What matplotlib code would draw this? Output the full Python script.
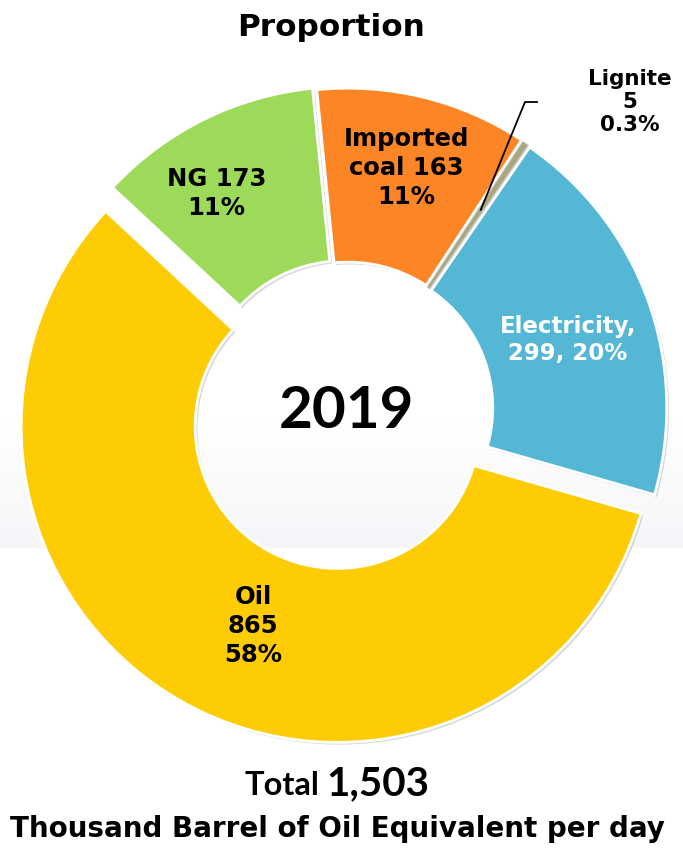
import numpy as np
import matplotlib
matplotlib.use("Agg")
import matplotlib.pyplot as plt
from matplotlib.colors import LinearSegmentedColormap

# ---- data ----
categories = ["Electricity", "Lignite", "Imported coal", "NG", "Oil"]
values = [299, 5, 163, 173, 865]
pct_labels = ["20%", "0.3%", "11%", "11%", "58%"]
total_label = "1,503"
year_label = "2019"

# ---- styles ----
colors = ["#54B7D5", "#A9A77B", "#FC8526", "#9DDA5A", "#FECC04"]
explode = [4, 4, 5, 7, 20]          # in pixels (data units)
label_fmt = ["{n},\n{v}, {p}", None, "Imported\ncoal {v}\n{p}", "{n} {v}\n{p}", "{n}\n{v}\n{p}"]
label_r = [0.72, 0, 0.77, 0.775, 0.685]
label_dth = [-2.5, 0, 0, 5, 6.6]
label_col = ["white", "black", "black", "black", "black"]

W, H = 683, 858
fig = plt.figure(figsize=(W / 100, H / 100), dpi=100)
ax = fig.add_axes([0, 0, 1, 1])

# faint background band
cmap = LinearSegmentedColormap.from_list("bg", ["#f5f6f9", "#ffffff"])
grad = np.linspace(0, 1, 100).reshape(-1, 1)
ax.imshow(grad, extent=[0, W, H - 548, H - 420], cmap=cmap, aspect="auto",
          origin="lower", zorder=0)

R = 316
C = (347, H - 409)
wedges, _ = ax.pie(values, colors=colors, explode=explode, startangle=-16,
                   counterclock=True, radius=R, center=C, frame=True,
                   wedgeprops=dict(width=174, edgecolor="white", linewidth=2),
                   shadow=dict(ox=1.6, oy=-1.6, facecolor="#8a8a8a",
                               edgecolor="none", alpha=0.35))
ax.set_xlim(0, W)
ax.set_ylim(0, H)
ax.set_aspect("equal")
ax.axis("off")
wedges[1].set_edgecolor("#c4c4c4")
wedges[1].set_linewidth(0.8)

for i, w in enumerate(wedges):
    if label_fmt[i] is None:
        continue
    th = np.deg2rad((w.theta1 + w.theta2) / 2 + label_dth[i])
    cx, cy = w.center
    x = cx + label_r[i] * R * np.cos(th)
    y = cy + label_r[i] * R * np.sin(th)
    txt = label_fmt[i].format(n=categories[i], v=values[i], p=pct_labels[i])
    fs = 16.5 if i == 0 else 17.5
    ax.text(x, y, txt, ha="center", va="center", color=label_col[i],
            fontsize=fs, fontweight="bold", family="DejaVu Sans",
            linespacing=1.25, zorder=5)

# lignite leader + label
wl = wedges[1]
th = np.deg2rad((wl.theta1 + wl.theta2) / 2)
x0 = wl.center[0] + 236 * np.cos(th)
y0 = wl.center[1] + 236 * np.sin(th)
ax.plot([x0, 525, 537], [y0, H - 102, H - 102], color="black", lw=1.3, zorder=6)
ax.text(630, H - 102, f"{categories[1]}\n{values[1]}\n{pct_labels[1]}",
        ha="center", va="center", fontsize=15.5, fontweight="bold",
        family="DejaVu Sans", linespacing=1.2, zorder=6)

ax.text(331, H - 28, "Proportion", ha="center", va="center", fontsize=22.4,
        fontweight="bold", family="DejaVu Sans")
ax.text(346, H - 411, year_label, ha="center", va="center", fontsize=42,
        fontweight="bold", family="Lato", zorder=6)
ax.text(319, H - 795, "Total", ha="right", va="baseline", fontsize=23.5,
        fontweight="bold", family="Lato")
ax.text(326, H - 795, total_label, ha="left", va="baseline", fontsize=29,
        fontweight="bold", family="Lato")
ax.text(337, H - 837, "Thousand Barrel of Oil Equivalent per day", ha="center",
        va="baseline", fontsize=20, fontweight="bold", family="DejaVu Sans")

fig.savefig("out.png", dpi=100)
